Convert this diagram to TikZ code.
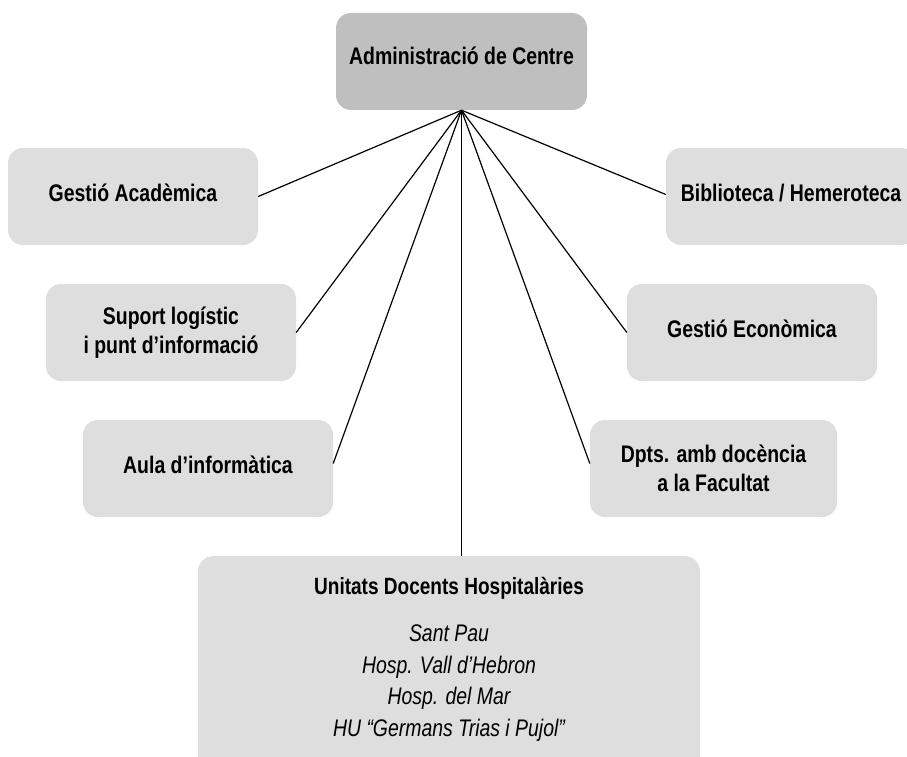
\documentclass[tikz,border=0pt]{standalone}
\usepackage{fontspec}
\setmainfont{Liberation Sans}[FakeStretch=0.81]
\definecolor{boxgray}{HTML}{DEDEDE}
\definecolor{topgray}{HTML}{BFBFBF}
\begin{document}
\begin{tikzpicture}[x=1pt,y=-1pt,
  box/.style={fill=boxgray, rounded corners=15pt, minimum width=250pt, minimum height=97pt,
    align=center, inner sep=0pt, font=\fontsize{24}{28.5}\selectfont\bfseries},
  oneline/.style={text height=20pt, text depth=11pt},
  titletext/.style={inner sep=0pt, anchor=base, font=\fontsize{23.5}{28.5}\selectfont\bfseries},
  hosptext/.style={inner sep=0pt, anchor=base, font=\fontsize{24}{28.5}\selectfont\itshape},
  conn/.style={line width=1.2pt, black}]
\clip (0,0) rectangle (907,757);
\useasboundingbox (0,0) rectangle (907,757);

\node[box, fill=topgray, minimum width=251pt, text height=20pt, text depth=14pt] (top) at (461.5,61.5) {Administració de Centre};
\node[box, oneline] (ga) at (133,196.5) {Gestió Acadèmica};
\node[box, oneline] (bib) at (791,196.5) {Biblioteca / Hemeroteca};
\node[box] (sl) at (171,332.5) {Suport logístic\\i punt d’informació};
\node[box, oneline] (ge) at (752,332.5) {Gestió Econòmica};
\node[box, oneline] (aula) at (208,468.5) {Aula d’informàtica};
\node[box, minimum width=247pt] (dpts) at (713.5,468.5) {Dpts. amb docència\\a la Facultat};
\node[box, minimum width=502pt, minimum height=240pt, anchor=north] (units) at (449,556) {};

\node[titletext] (ut) at (449,594) {Unitats Docents Hospitalàries};
\node[hosptext] (h1) at (449,641.5) {Sant Pau};
\node[hosptext] (h2) at (449,673) {Hosp. Vall d’Hebron};
\node[hosptext] (h3) at (449,704.5) {Hosp. del Mar};
\node[hosptext] (h4) at (449,736) {HU “Germans Trias i Pujol”};

\coordinate (hub) at (top.south);
\draw[conn] (hub) -- (ga.east);
\draw[conn] (hub) -- ([yshift=2pt]bib.west);
\draw[conn] (hub) -- (sl.east);
\draw[conn] (hub) -- (ge.west);
\draw[conn] (hub) -- ([yshift=5pt]aula.east);
\draw[conn] (hub) -- ([yshift=5pt]dpts.west);
\draw[conn] (hub) -- (hub |- units.north);
\end{tikzpicture}
\end{document}
